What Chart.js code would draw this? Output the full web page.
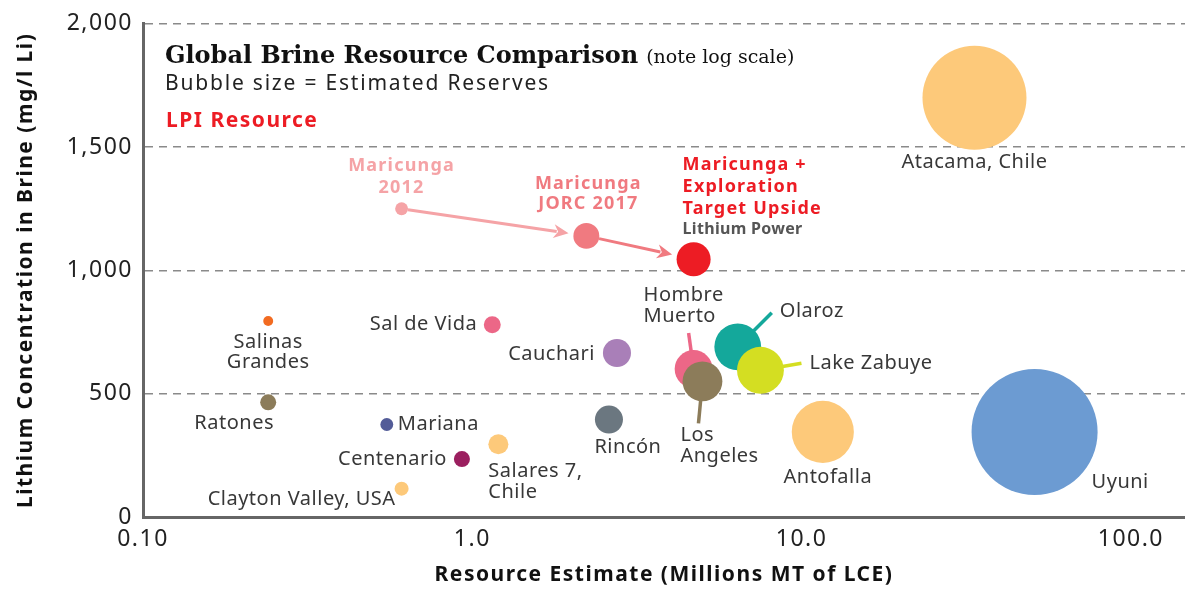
<!DOCTYPE html>
<html>
<head>
<meta charset="utf-8">
<script src="https://cdn.jsdelivr.net/npm/chart.js@4.4.1/dist/chart.umd.min.js"></script>
<style>
  html, body { margin: 0; padding: 0; background: #fff; }
  #wrap { width: 1185px; height: 589px; }
</style>
</head>
<body>
<div id="wrap"><canvas id="chart" width="1185" height="589"></canvas></div>
<script>
// Brine projects: resource estimate (Mt LCE), Li concentration (mg/l), reserves (Mt, drives bubble size)
const names = ['Atacama, Chile', 'Uyuni', 'Antofalla', 'Olaroz', 'Lake Zabuye', 'Hombre Muerto',
  'Los Angeles', 'Rincón', 'Cauchari', 'Sal de Vida', 'Mariana', 'Centenario', 'Salares 7, Chile',
  'Clayton Valley, USA', 'Salinas Grandes', 'Ratones', 'Maricunga 2012', 'Maricunga JORC 2017',
  'Maricunga + Exploration Target Upside'];
const resource = [33.5, 51, 11.6, 6.4, 7.5, 4.7, 5.0, 2.6, 2.75, 1.15, 0.55, 0.93, 1.2, 0.61, 0.24, 0.24, 0.61, 2.22, 4.7];
const concentration = [1700, 345, 345, 690, 595, 600, 550, 395, 665, 780, 375, 235, 295, 115, 795, 465, 1250, 1140, 1045];
const reserves = [14.3, 21, 5.1, 2.9, 2.9, 1.9, 2.1, 1.04, 1.04, 0.38, 0.22, 0.34, 0.53, 0.26, 0.13, 0.34, 0.22, 0.89, 1.53];

// Maricunga progression (from -> to)
const arrows = [[16, 17], [17, 18]];

const xTicks = [0.1, 1, 10, 100];
const xTickLabels = ['0.10', '1.0', '10.0', '100.0'];

const colors = ['#FDC97A', '#6C9BD2', '#FDC97A', '#14A89B', '#D4DE22', '#EC6787', '#8C7C5A', '#6B7780',
  '#A97FB8', '#EC6787', '#535C98', '#9B1F5F', '#FDC97A', '#FDC97A', '#F26B21', '#8C7C5A',
  '#F5A3A6', '#F07A80', '#ED1C24'];
const arrowColors = ['#F5A3A6', '#F07A80'];

const SANS = '"Noto Sans", sans-serif';
const SERIF = '"DejaVu Serif", serif';

// label placement relative to bubble centre (px)
const labelLayout = {
  0: { lines: ['Atacama, Chile'], dx: 0, dy: [65], align: 'center' },
  1: { lines: ['Uyuni'], dx: 57, dy: [50], align: 'left' },
  2: { lines: ['Antofalla'], dx: 5, dy: [45], align: 'center' },
  3: { lines: ['Olaroz'], dx: 42, dy: [-36], align: 'left' },
  4: { lines: ['Lake Zabuye'], dx: 49, dy: [-7], align: 'left' },
  5: { lines: ['Hombre', 'Muerto'], dx: -50, dy: [-74, -53], align: 'left' },
  6: { lines: ['Los', 'Angeles'], dx: -22, dy: [54, 75], align: 'left' },
  7: { lines: ['Rincón'], dx: 19, dy: [28], align: 'center' },
  8: { lines: ['Cauchari'], dx: -22, dy: [1], align: 'right' },
  9: { lines: ['Sal de Vida'], dx: -15, dy: [0], align: 'right' },
  10: { lines: ['Mariana'], dx: 11, dy: [0], align: 'left' },
  11: { lines: ['Centenario'], dx: -15, dy: [0], align: 'right' },
  12: { lines: ['Salares 7,', 'Chile'], dx: -10, dy: [27, 48], align: 'left' },
  13: { lines: ['Clayton Valley, USA'], dx: -6, dy: [11], align: 'right' },
  14: { lines: ['Salinas', 'Grandes'], dx: 0, dy: [21, 41], align: 'center' },
  15: { lines: ['Ratones'], dx: -34, dy: [21], align: 'center' },
  16: { lines: ['Maricunga', '2012'], dx: 0, dy: [-43, -21], align: 'center', bold: true, color: '#F5A3A6' },
  17: { lines: ['Maricunga', 'JORC 2017'], dx: 2, dy: [-52, -32], align: 'center', bold: true, color: '#F07A80' },
  18: { lines: ['Maricunga +', 'Exploration', 'Target Upside'], dx: -11, dy: [-94, -72, -50], align: 'left', bold: true, color: '#ED1C24' }
};
const leaders = [
  { i: 3, dx: 34, dy: -34 },
  { i: 4, dx: 41, dy: -7 },
  { i: 5, dx: -5, dy: -36 },
  { i: 6, dx: -4, dy: 42 }
];

const points = names.map((n, i) => ({ x: resource[i], y: concentration[i], r: 13.75 * Math.sqrt(reserves[i]) }));

// wider tracking for axis text, closer to the original's geometric face
const tracking = {
  id: 'tracking',
  beforeDraw(chart) { chart.ctx.letterSpacing = '1.5px'; },
  afterDraw(chart) { chart.ctx.letterSpacing = '0px'; }
};

const annotate = {
  id: 'annotate',
  beforeDatasetsDraw(chart) {
    const ctx = chart.ctx;
    const pts = chart.getDatasetMeta(0).data;
    leaders.forEach(l => {
      const p = pts[l.i];
      ctx.save();
      ctx.strokeStyle = colors[l.i];
      ctx.lineWidth = 3.5;
      ctx.beginPath();
      ctx.moveTo(p.x, p.y);
      ctx.lineTo(p.x + l.dx, p.y + l.dy);
      ctx.stroke();
      ctx.restore();
    });
  },
  afterDatasetsDraw(chart) {
    const ctx = chart.ctx;
    const pts = chart.getDatasetMeta(0).data;
    const area = chart.chartArea;

    // arrows
    arrows.forEach(([a, b], k) => {
      const pa = pts[a], pb = pts[b];
      const ra = points[a].r, rb = points[b].r;
      const dxv = pb.x - pa.x, dyv = pb.y - pa.y;
      const len = Math.hypot(dxv, dyv);
      const ux = dxv / len, uy = dyv / len;
      const sx = pa.x + ux * ra, sy = pa.y + uy * ra;
      const ex = pb.x - ux * (rb + 5), ey = pb.y - uy * (rb + 5);
      const head = 15, half = 7;
      ctx.save();
      ctx.strokeStyle = arrowColors[k];
      ctx.fillStyle = arrowColors[k];
      ctx.lineWidth = 3;
      ctx.beginPath();
      ctx.moveTo(sx, sy);
      ctx.lineTo(ex - ux * head * 0.8, ey - uy * head * 0.8);
      ctx.stroke();
      ctx.beginPath();
      ctx.moveTo(ex, ey);
      ctx.lineTo(ex - ux * head - uy * half, ey - uy * head + ux * half);
      ctx.lineTo(ex - ux * head * 0.7, ey - uy * head * 0.7);
      ctx.lineTo(ex - ux * head + uy * half, ey - uy * head - ux * half);
      ctx.closePath();
      ctx.fill();
      ctx.restore();
    });

    // bubble labels
    ctx.save();
    ctx.textBaseline = 'middle';
    Object.keys(labelLayout).forEach(k => {
      const L = labelLayout[k];
      const p = pts[k];
      ctx.font = (L.bold ? 'bold 18px ' : '20px ') + SANS;
      ctx.letterSpacing = L.bold ? '1.2px' : '0.5px';
      ctx.fillStyle = L.color || '#383838';
      ctx.textAlign = L.align;
      L.lines.forEach((t, j) => ctx.fillText(t, p.x + L.dx, p.y + L.dy[j]));
    });
    // company tag under the upside label
    const pu = pts[18];
    ctx.font = 'bold 16px ' + SANS;
    ctx.letterSpacing = '0.3px';
    ctx.fillStyle = '#555';
    ctx.textAlign = 'left';
    ctx.fillText('Lithium Power', pu.x - 11, pu.y - 30);

    // in-chart heading
    ctx.textAlign = 'left';
    ctx.textBaseline = 'alphabetic';
    ctx.letterSpacing = '0px';
    ctx.fillStyle = '#111';
    ctx.font = 'bold 24px ' + SERIF;
    const title = 'Global Brine Resource Comparison';
    ctx.fillText(title, area.left + 22, 63);
    const tw = ctx.measureText(title).width;
    ctx.font = '19px ' + SERIF;
    ctx.fillText('(note log scale)', area.left + 22 + tw + 8, 63);
    ctx.textBaseline = 'middle';
    ctx.font = '21px ' + SANS;
    ctx.letterSpacing = '1.8px';
    ctx.fillStyle = '#222';
    ctx.fillText('Bubble size = Estimated Reserves', area.left + 22, 84);
    ctx.font = 'bold 21px ' + SANS;
    ctx.letterSpacing = '1.5px';
    ctx.fillStyle = '#ED1C24';
    ctx.fillText('LPI Resource', area.left + 23, 121);
    ctx.restore();
  }
};

Chart.defaults.font.family = SANS;
Chart.defaults.color = '#222';

new Chart(document.getElementById('chart'), {
  type: 'bubble',
  data: {
    datasets: [{
      label: 'Brine resources',
      data: points,
      backgroundColor: colors,
      borderWidth: 0,
      hoverBorderWidth: 0,
      clip: false
    }]
  },
  options: {
    responsive: false,
    animation: false,
    devicePixelRatio: 1,
    layout: { autoPadding: false, padding: { top: 20, right: 0, left: 0, bottom: 0 } },
    plugins: { legend: { display: false }, tooltip: { enabled: false } },
    scales: {
      x: {
        type: 'logarithmic',
        min: 0.1,
        max: 146,
        afterBuildTicks: s => { s.ticks = xTicks.map(v => ({ value: v })); },
        afterFit: s => { s.height = 72; },
        ticks: {
          autoSkip: false,
          maxRotation: 0,
          padding: 9,
          font: { size: 23 },
          color: '#222',
          callback: v => xTickLabels[xTicks.indexOf(v)]
        },
        grid: { display: false, drawTicks: false },
        border: { display: true, color: '#666', width: 3 },
        title: {
          display: true,
          text: 'Resource Estimate (Millions MT of LCE)',
          font: { size: 21, weight: 'bold' },
          color: '#111',
          padding: { top: 0, bottom: 1 }
        }
      },
      y: {
        min: 0,
        max: 2000,
        afterFit: s => { s.width = 143; },
        ticks: {
          stepSize: 500,
          padding: 10,
          font: { size: 23 },
          color: '#222',
          callback: v => v.toLocaleString('en-US')
        },
        grid: {
          drawTicks: false,
          lineWidth: 1.5,
          color: c => (c.tick && c.tick.value === 0) ? 'rgba(0,0,0,0)' : '#8a8a8a'
        },
        border: { display: true, color: '#666', width: 3, dash: [8, 6] },
        title: {
          display: true,
          text: 'Lithium Concentration in Brine (mg/l Li)',
          font: { size: 21, weight: 'bold' },
          color: '#111',
          padding: { top: 13, bottom: 0 }
        }
      }
    }
  },
  plugins: [tracking, annotate]
});
</script>
</body>
</html>
